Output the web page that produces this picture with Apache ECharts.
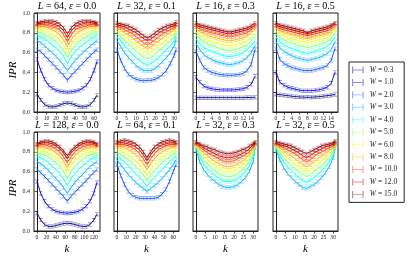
<!DOCTYPE html>
<html><head><meta charset="utf-8">
<script src="https://cdn.jsdelivr.net/npm/echarts@6/dist/echarts.min.js"></script>
<style>html,body{margin:0;padding:0;background:#fff}#c{width:415px;height:263px}</style>
</head><body><div id="c"></div>
<script>
// ---------- data ----------
const W_LABELS = ['0.3','1.0','2.0','3.0','4.0','5.0','6.0','8.0','10.0','12.0','15.0'];
const COLORS = ['#000080','#0000e6','#004dff','#00b3ff','#1affe6','#80ff80','#e6ff1a','#ffb300','#ff4d00','#e60000','#800000'];

const K16 = [0,1,2,3,4,5,6,7,8,9,10,11,12,13,14,15];
const K32 = [0,2,4,6,8,10,12,14,16,18,20,22,24,26,28,30,31];
const K64 = [0,4,8,12,16,20,24,28,32,36,40,44,48,52,56,60,63];
const K128 = [0,8,16,24,32,40,48,56,64,72,80,88,96,104,112,120,127];

const TICKS16 = [0,2,4,6,8,10,12,14];
const TICKS32 = [0,5,10,15,20,25,30];
const TICKS64 = [0,10,20,30,40,50,60];
const TICKS128 = [0,20,40,60,80,100,120];
const YTICKS = [0,0.2,0.4,0.6,0.8,1.0];

// Panel 1: L=64, eps=0.0  (rows: W = 0.3 ... 15.0)
const P1 = [
 [.18,.12,.075,.055,.05,.055,.07,.085,.09,.085,.07,.055,.05,.055,.075,.12,.17],
 [.53,.42,.33,.27,.24,.22,.21,.205,.2,.205,.21,.22,.24,.27,.33,.42,.51],
 [.63,.61,.57,.53,.49,.45,.41,.37,.32,.37,.41,.45,.49,.53,.57,.61,.63],
 [.72,.70,.67,.63,.60,.56,.52,.47,.42,.47,.52,.56,.60,.63,.67,.70,.72],
 [.77,.76,.74,.71,.68,.65,.61,.56,.49,.56,.61,.65,.68,.71,.74,.76,.77],
 [.80,.80,.78,.76,.74,.71,.67,.62,.55,.62,.67,.71,.74,.76,.78,.80,.80],
 [.83,.83,.82,.80,.78,.76,.73,.68,.60,.68,.73,.76,.78,.80,.82,.83,.83],
 [.86,.86,.86,.85,.83,.81,.78,.73,.66,.73,.78,.81,.83,.85,.86,.86,.86],
 [.88,.88,.88,.87,.86,.85,.83,.78,.71,.78,.83,.85,.86,.87,.88,.88,.88],
 [.89,.90,.90,.90,.89,.88,.86,.82,.75,.82,.86,.88,.89,.90,.90,.90,.89],
 [.90,.91,.92,.92,.92,.91,.89,.85,.79,.85,.89,.91,.92,.92,.92,.91,.90]
];
// Panel 2: L=32, eps=0.1
const P2 = [
 null, null,
 [.63,.52,.44,.38,.35,.33,.32,.315,.32,.32,.33,.35,.38,.42,.49,.57,.63],
 [.72,.66,.60,.55,.51,.47,.44,.42,.42,.42,.44,.47,.51,.55,.60,.67,.73],
 [.76,.72,.67,.63,.59,.55,.52,.49,.48,.49,.52,.55,.59,.63,.67,.72,.77],
 [.79,.76,.72,.69,.65,.62,.58,.55,.54,.55,.58,.62,.65,.69,.72,.76,.80],
 [.82,.79,.76,.73,.70,.67,.64,.61,.59,.61,.64,.67,.70,.73,.76,.79,.83],
 [.85,.83,.80,.78,.75,.72,.69,.66,.64,.66,.69,.72,.75,.78,.80,.83,.86],
 [.87,.85,.83,.81,.79,.76,.73,.70,.68,.70,.73,.76,.79,.81,.83,.85,.88],
 [.88,.87,.86,.84,.82,.80,.77,.74,.72,.74,.77,.80,.82,.84,.86,.87,.89],
 [.90,.89,.88,.87,.85,.83,.80,.77,.75,.77,.80,.83,.85,.87,.88,.89,.91]
];
// Panel 3: L=16, eps=0.3
const P3 = [
 [.145,.145,.145,.145,.145,.145,.145,.145,.145,.145,.145,.145,.145,.146,.147,.15],
 [.35,.30,.26,.245,.235,.228,.225,.222,.222,.222,.225,.23,.235,.25,.28,.36],
 [.61,.52,.45,.42,.40,.39,.38,.375,.37,.37,.375,.38,.39,.42,.48,.63],
 [.69,.63,.58,.55,.53,.51,.50,.49,.48,.48,.49,.50,.52,.55,.60,.67],
 [.74,.69,.65,.63,.61,.60,.58,.57,.56,.56,.57,.58,.60,.63,.67,.72],
 [.78,.74,.71,.69,.67,.66,.64,.63,.62,.62,.63,.64,.66,.68,.72,.77],
 [.81,.77,.75,.73,.71,.70,.69,.68,.67,.67,.68,.69,.70,.72,.76,.80],
 [.84,.81,.79,.77,.76,.75,.74,.73,.72,.72,.73,.74,.75,.77,.80,.84],
 [.86,.84,.82,.81,.80,.79,.78,.77,.76,.76,.77,.78,.79,.80,.83,.86],
 [.88,.86,.85,.84,.83,.82,.81,.80,.79,.79,.80,.81,.82,.83,.85,.88],
 [.90,.88,.87,.86,.85,.84,.83,.82,.81,.81,.82,.83,.84,.85,.87,.90]
];
// Panel 4: L=16, eps=0.5
const P4 = [
 [.18,.175,.17,.165,.16,.155,.152,.15,.148,.15,.152,.155,.16,.165,.17,.178],
 [.40,.30,.27,.25,.24,.23,.22,.215,.215,.215,.22,.225,.235,.25,.29,.40],
 [.64,.53,.49,.47,.45,.44,.43,.42,.42,.42,.43,.44,.45,.47,.52,.64],
 [.71,.65,.61,.59,.57,.55,.54,.53,.52,.53,.54,.55,.57,.59,.63,.71],
 [.76,.71,.68,.66,.64,.63,.61,.60,.59,.60,.61,.63,.64,.66,.70,.76],
 [.79,.75,.73,.71,.70,.68,.67,.66,.65,.66,.67,.68,.70,.71,.74,.80],
 [.82,.79,.77,.75,.74,.73,.72,.71,.70,.71,.72,.73,.74,.75,.78,.83],
 [.85,.82,.80,.79,.78,.77,.76,.75,.74,.75,.76,.77,.78,.79,.81,.85],
 [.87,.84,.83,.82,.81,.80,.79,.78,.77,.78,.79,.80,.81,.82,.84,.87],
 [.88,.86,.85,.84,.83,.82,.81,.80,.79,.80,.81,.82,.83,.84,.86,.89],
 [.90,.88,.87,.86,.85,.84,.83,.82,.80,.82,.83,.84,.85,.86,.88,.90]
];
// Panel 5: L=128, eps=0.0
const P5 = [
 [.18,.11,.065,.045,.045,.055,.065,.075,.078,.075,.065,.055,.045,.045,.065,.11,.17],
 [.50,.38,.30,.25,.22,.20,.19,.185,.18,.185,.19,.20,.22,.25,.30,.38,.49],
 [.62,.59,.55,.51,.47,.43,.39,.35,.30,.35,.39,.43,.47,.51,.55,.59,.62],
 [.70,.68,.65,.61,.57,.53,.49,.44,.38,.44,.49,.53,.57,.61,.65,.68,.70],
 [.75,.74,.72,.69,.66,.62,.58,.53,.46,.53,.58,.62,.66,.69,.72,.74,.75],
 [.78,.78,.77,.75,.72,.69,.65,.60,.53,.60,.65,.69,.72,.75,.77,.78,.78],
 [.81,.81,.80,.79,.77,.74,.71,.66,.59,.66,.71,.74,.77,.79,.80,.81,.81],
 [.84,.85,.84,.83,.82,.79,.76,.71,.64,.71,.76,.79,.82,.83,.84,.85,.84],
 [.86,.87,.87,.86,.85,.83,.80,.75,.69,.75,.80,.83,.85,.86,.87,.87,.86],
 [.87,.89,.89,.89,.88,.86,.83,.79,.73,.79,.83,.86,.88,.89,.89,.89,.87],
 [.88,.90,.91,.91,.90,.88,.85,.81,.76,.81,.85,.88,.90,.91,.91,.90,.88]
];
// Panel 6: L=64, eps=0.1
const P6 = [
 null, null,
 [.67,.56,.47,.40,.36,.34,.33,.33,.33,.33,.33,.34,.37,.42,.50,.60,.67],
 [.72,.67,.62,.57,.53,.49,.46,.43,.40,.43,.46,.49,.53,.57,.62,.67,.72],
 [.76,.73,.70,.66,.62,.58,.54,.50,.45,.50,.54,.58,.62,.66,.70,.73,.76],
 [.79,.77,.75,.72,.69,.65,.61,.57,.51,.57,.61,.65,.69,.72,.75,.77,.79],
 [.82,.81,.79,.77,.74,.71,.67,.62,.56,.62,.67,.71,.74,.77,.79,.81,.82],
 [.85,.85,.84,.82,.80,.77,.73,.68,.62,.68,.73,.77,.80,.82,.84,.85,.85],
 [.87,.87,.87,.86,.84,.82,.78,.73,.67,.73,.78,.82,.84,.86,.87,.87,.87],
 [.89,.89,.89,.88,.87,.85,.82,.77,.71,.77,.82,.85,.87,.88,.89,.89,.89],
 [.90,.91,.92,.91,.90,.88,.85,.80,.74,.80,.85,.88,.90,.91,.92,.91,.90]
];
// Panel 7: L=32, eps=0.3
const P7 = [
 null, null, null,
 [.82,.70,.62,.57,.53,.50,.47,.45,.44,.44,.45,.47,.50,.54,.60,.70,.84],
 [.84,.75,.68,.63,.59,.56,.53,.51,.50,.50,.51,.53,.56,.60,.66,.75,.86],
 [.85,.78,.72,.68,.64,.61,.58,.56,.55,.55,.56,.58,.61,.65,.70,.78,.87],
 [.86,.81,.76,.72,.69,.66,.63,.61,.60,.60,.61,.63,.66,.69,.74,.81,.88],
 [.87,.83,.79,.76,.73,.70,.68,.66,.65,.65,.66,.68,.70,.73,.77,.83,.88],
 [.88,.85,.82,.79,.77,.75,.73,.71,.70,.70,.71,.73,.75,.77,.80,.85,.89],
 [.89,.87,.84,.82,.80,.78,.76,.75,.74,.74,.75,.76,.78,.80,.83,.87,.89],
 [.90,.88,.86,.85,.83,.82,.80,.79,.78,.78,.79,.80,.82,.83,.86,.88,.90]
];
// Panel 8: L=32, eps=0.5
const P8 = [
 null, null, null,
 [.82,.72,.64,.58,.54,.50,.47,.44,.43,.45,.47,.50,.54,.59,.65,.74,.84],
 [.84,.76,.70,.65,.61,.57,.54,.51,.49,.51,.54,.57,.61,.65,.70,.77,.86],
 [.85,.79,.74,.70,.66,.63,.60,.57,.55,.57,.60,.63,.66,.70,.74,.80,.87],
 [.86,.82,.78,.74,.71,.68,.65,.62,.60,.62,.65,.68,.71,.74,.78,.82,.88],
 [.87,.84,.81,.78,.76,.73,.70,.67,.65,.67,.70,.73,.76,.78,.81,.84,.88],
 [.88,.86,.84,.82,.80,.78,.75,.72,.70,.72,.75,.78,.80,.82,.84,.86,.89],
 [.89,.87,.86,.85,.83,.81,.79,.76,.74,.76,.79,.81,.83,.85,.86,.88,.90],
 [.90,.89,.88,.87,.86,.84,.82,.80,.78,.80,.82,.84,.86,.87,.88,.89,.91]
];

// ---------- layout ----------
const COLS = [[34,66],[114,65],[193,65],[273,65]];
const ROWS = [13,132];
const PH = 99;
const PANELS = [
 {L:'64', e:'0.0', k:K64, d:P1, r:[-3.15,66.15], t:TICKS64},
 {L:'32', e:'0.1', k:K32, d:P2, r:[-1.55,32.55], t:TICKS32},
 {L:'16', e:'0.3', k:K16, d:P3, r:[-0.75,15.75], t:TICKS16},
 {L:'16', e:'0.5', k:K16, d:P4, r:[-0.75,15.75], t:TICKS16},
 {L:'128', e:'0.0', k:K128, d:P5, r:[-6.35,133.35], t:TICKS128},
 {L:'64', e:'0.1', k:K64, d:P6, r:[-3.15,66.15], t:TICKS64},
 {L:'32', e:'0.3', k:K32, d:P7, r:[-1.55,32.55], t:TICKS32},
 {L:'32', e:'0.5', k:K32, d:P8, r:[-1.55,32.55], t:TICKS32}
];

function rgba(hex,a){const n=parseInt(hex.slice(1),16);return `rgba(${n>>16&255},${n>>8&255},${n&255},${a})`;}
const ERR = 'path://M0,0h10v1.6h-4.2v6.8h4.2v1.6h-10v-1.6h4.2v-6.8h-4.2z';
const LEG = 'path://M0,0h2v5.2h16v-5.2h2v12h-2v-5.2h-16v5.2h-2z';
const SERIF = 'Liberation Serif';
const richT = {
  i:{fontFamily:SERIF,fontStyle:'italic',fontSize:10,fill:'#000',color:'#000'},
  n:{fontFamily:SERIF,fontSize:10,fill:'#000',color:'#000'}
};

const grids=[],xAxes=[],yAxes=[],series=[],graphics=[];
PANELS.forEach((p,i)=>{
  const col=COLS[i%4], top=ROWS[Math.floor(i/4)];
  grids.push({left:col[0],top:top,width:col[1],height:PH,show:true,borderColor:'#222',borderWidth:1,backgroundColor:'transparent'});
  const axLab={fontFamily:SERIF,fontSize:5.6,color:'#222',margin:4};
  xAxes.push({type:'value',gridIndex:i,min:p.r[0],max:p.r[1],
    axisLine:{show:true,onZero:false,lineStyle:{color:'#222',width:1}},
    axisTick:{show:true,length:2.5,lineStyle:{color:'#222',width:0.8},customValues:p.t},
    axisLabel:Object.assign({customValues:p.t,formatter:v=>String(v),hideOverlap:false,showMaxLabel:true,showMinLabel:true},axLab),
    splitLine:{show:false}});
  yAxes.push({type:'value',gridIndex:i,min:0,max:1,interval:0.2,
    axisLine:{show:true,lineStyle:{color:'#222',width:1}},
    axisTick:{show:true,length:2.5,lineStyle:{color:'#222',width:0.8}},
    axisLabel:Object.assign({show:(i%4===0),formatter:v=>v.toFixed(1)},axLab,{fontSize:6}),
    splitLine:{show:false}});
  p.d.forEach((vals,j)=>{
    if(!vals) return;
    series.push({type:'line',name:'W = '+W_LABELS[j],xAxisIndex:i,yAxisIndex:i,
      data:p.k.map((kk,n)=>[kk,vals[n]]),
      symbol:ERR,symbolSize:[4,4],showSymbol:true,
      lineStyle:{color:rgba(COLORS[j],0.92),width:1},
      itemStyle:{color:rgba(COLORS[j],0.55)},
      emphasis:{disabled:true},silent:true,animation:false,z:2+j});
  });
  graphics.push({type:'text',x:col[0]+col[1]/2,y:top-12,silent:true,
    style:{text:`{i|L}{n| = ${p.L}, }{i|ε}{n| = ${p.e}}`,rich:richT,align:'center',verticalAlign:'top'}});
});
// axis names
graphics.push({type:'text',x:13,y:70,rotation:Math.PI/2,style:{text:'IPR',font:`italic 11px "${SERIF}"`,fill:'#000',align:'center',verticalAlign:'middle'}});
graphics.push({type:'text',x:13,y:188,rotation:Math.PI/2,style:{text:'IPR',font:`italic 11px "${SERIF}"`,fill:'#000',align:'center',verticalAlign:'middle'}});
COLS.forEach(c=>{
  graphics.push({type:'text',x:c[0]+c[1]/2,y:249,style:{text:'k',font:`italic 11px "${SERIF}"`,fill:'#000',align:'center',verticalAlign:'middle'}});
});

const chart=echarts.init(document.getElementById('c'),null,{renderer:'canvas'});
chart.setOption({
  animation:false,
  backgroundColor:'#fff',
  grid:grids,xAxis:xAxes,yAxis:yAxes,series:series,graphic:graphics,
  legend:{orient:'vertical',left:349,top:62,padding:[4,7,4,3],itemGap:4.44,itemWidth:14,itemHeight:7,
    borderColor:'#222',borderWidth:1,backgroundColor:'#fff',selectedMode:false,
    icon:LEG,
    data:W_LABELS.map((w,j)=>({name:'W = '+w,itemStyle:{color:rgba(COLORS[j],0.45)}})),
    formatter:n=>'{i|W}{n|'+n.slice(1)+'}',
    textStyle:{fontFamily:SERIF,fontSize:7.5,color:'#222',lineHeight:7,
      rich:{i:{fontFamily:SERIF,fontStyle:'italic',fontSize:7.5,color:'#222'},n:{fontFamily:SERIF,fontSize:7.5,color:'#222'}}}}
});
</script></body></html>
